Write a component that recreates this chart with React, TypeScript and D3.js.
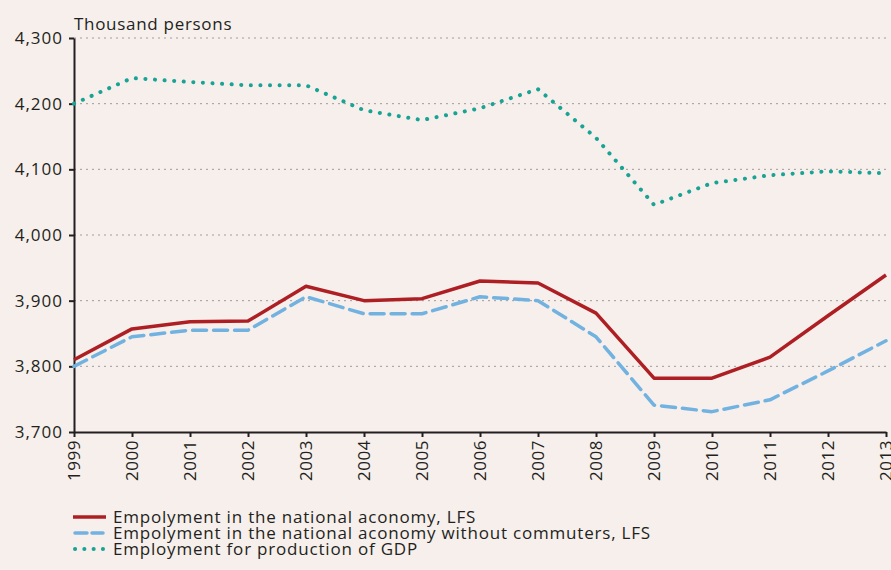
import * as React from "react";
import * as d3 from "d3";

const years = [1999, 2000, 2001, 2002, 2003, 2004, 2005, 2006, 2007, 2008, 2009, 2010, 2011, 2012, 2013];
const lfs = [3810, 3857, 3868, 3869, 3922, 3900, 3903, 3930, 3927, 3881, 3782, 3782, 3814, 3877, 3939];
const lfsNoCommuters = [3800, 3845, 3855, 3855, 3906, 3880, 3880, 3906, 3900, 3845, 3741, 3731, 3749, 3793, 3839];
const gdpEmployment = [4200, 4239, 4233, 4228, 4228, 4190, 4175, 4193, 4222, 4148, 4046, 4079, 4091, 4097, 4094];
const yTicks = [3700, 3800, 3900, 4000, 4100, 4200, 4300];
const legendLabels = [
  "Empolyment in the national aconomy, LFS",
  "Empolyment in the national aconomy without commuters, LFS",
  "Employment for production of GDP",
];

const FONT = "'Open Sans', Lato, sans-serif";
const FS = 17;

function drawChart(svgEl: SVGSVGElement) {
  const svg = d3.select(svgEl);
  svg.selectAll("*").remove();

  const width = 891;
  const height = 570;
  const left = 74;
  const right = 886;
  const top = 38;
  const bottom = 432;

  svg.append("rect").attr("width", width).attr("height", height).attr("fill", "#f6efec");

  const x = d3.scaleLinear().domain([1999, 2013]).range([left, right]);
  const y = d3.scaleLinear().domain([3700, 4300]).range([bottom, top]);

  // gridlines
  svg
    .append("g")
    .selectAll("line")
    .data(yTicks.filter((t) => t > 3700))
    .enter()
    .append("line")
    .attr("x1", left)
    .attr("x2", right)
    .attr("y1", (d) => y(d))
    .attr("y2", (d) => y(d))
    .attr("stroke", "#a09c9b")
    .attr("stroke-width", 1)
    .attr("stroke-dasharray", "2,4");

  const yAxis = d3
    .axisLeft(y)
    .tickValues(yTicks)
    .tickSize(5)
    .tickSizeOuter(0)
    .tickPadding(6)
    .tickFormat((d) => d3.format(",")(d as number));

  const yg = svg.append("g").attr("transform", `translate(${left},0)`).call(yAxis);
  yg.select(".domain").attr("stroke", "#231f20").attr("stroke-width", 2);
  yg.selectAll(".tick line").attr("stroke", "#231f20").attr("stroke-width", 2);
  yg.selectAll("text")
    .attr("font-family", FONT)
    .attr("font-size", FS)
    .attr("letter-spacing", 1)
    .attr("fill", "#231f20");

  const xAxis = d3
    .axisBottom(x)
    .tickValues(years)
    .tickSize(5)
    .tickSizeOuter(0)
    .tickFormat((d) => String(d));

  const xg = svg.append("g").attr("transform", `translate(0,${bottom})`).call(xAxis);
  xg.select(".domain").attr("stroke", "#231f20").attr("stroke-width", 2);
  xg.selectAll(".tick line").attr("stroke", "#231f20").attr("stroke-width", 2);
  xg.selectAll("text")
    .attr("font-family", FONT)
    .attr("font-size", FS)
    .attr("letter-spacing", 0.5)
    .attr("fill", "#231f20")
    .attr("transform", "rotate(-90)")
    .attr("text-anchor", "end")
    .attr("x", -8)
    .attr("y", 0)
    .attr("dy", "0.35em");

  svg
    .append("text")
    .attr("x", left)
    .attr("y", 30)
    .attr("font-family", FONT)
    .attr("font-size", FS)
    .attr("letter-spacing", 0.7)
    .attr("fill", "#231f20")
    .text("Thousand persons");

  const series = [
    { values: lfs, color: "#ae1f24", dash: null as string | null, cap: "butt", w: 3.5 },
    { values: lfsNoCommuters, color: "#72b2e0", dash: "14,7", cap: "round", w: 3.5 },
    { values: gdpEmployment, color: "#19a394", dash: "0.1,9.5", cap: "round", w: 4 },
  ];

  const line = d3
    .line<number>()
    .x((_d, i) => x(years[i]))
    .y((d) => y(d));

  series
    .slice()
    .reverse()
    .forEach((s) => {
      const p = svg
        .append("path")
        .attr("d", line(s.values))
        .attr("fill", "none")
        .attr("stroke", s.color)
        .attr("stroke-width", s.w)
        .attr("stroke-linecap", s.cap)
        .attr("stroke-linejoin", "round");
      if (s.dash) p.attr("stroke-dasharray", s.dash);
    });

  // legend
  const legend = svg.append("g");
  series.forEach((s, i) => {
    const ly = 517 + i * 16;
    const l = legend
      .append("line")
      .attr("x1", s.dash ? 75 : 73)
      .attr("x2", s.dash ? 103 : 106)
      .attr("y1", ly)
      .attr("y2", ly)
      .attr("stroke", s.color)
      .attr("stroke-width", s.w)
      .attr("stroke-linecap", s.cap);
    if (s.dash) l.attr("stroke-dasharray", i === 1 ? "12,5" : "0.1,9.2");
    legend
      .append("text")
      .attr("x", 113)
      .attr("y", ly)
      .attr("dy", "0.35em")
      .attr("font-family", FONT)
      .attr("font-size", FS)
      .attr("letter-spacing", 0.8)
      .attr("fill", "#231f20")
      .text(legendLabels[i]);
  });
}

const App = () => {
  const ref = React.useRef<SVGSVGElement>(null);
  React.useEffect(() => {
    if (ref.current) drawChart(ref.current);
  }, []);
  return (
    <svg
      ref={ref}
      width={891}
      height={570}
      style={{ position: "absolute", left: 0, top: 0, display: "block" }}
    />
  );
};

export default App;
